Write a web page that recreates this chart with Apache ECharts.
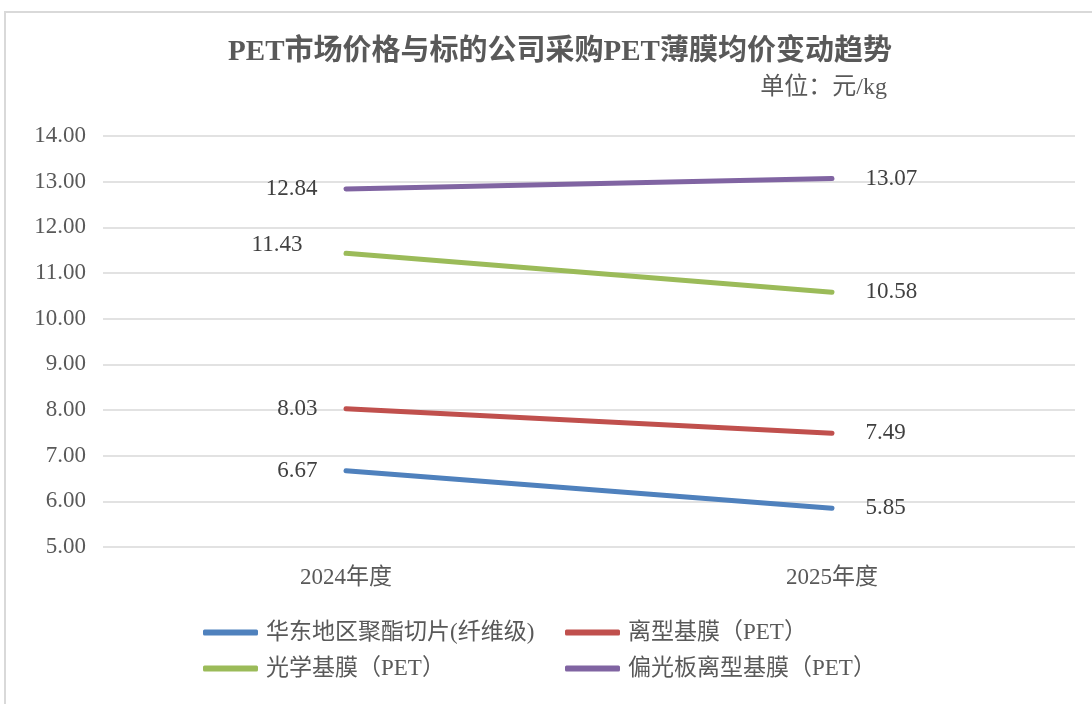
<!DOCTYPE html>
<html lang="zh">
<head>
    <meta charset="UTF-8" />
    <title>PET价格趋势</title>
    <style>
        html, body { margin: 0; padding: 0; background: #fff; }
        #chart { width: 1092px; height: 704px; }
    </style>
</head>
<body>
    <div id="chart"></div>
</body>
<script type="text/javascript" src="https://cdn.jsdelivr.net/npm/echarts@6/dist/echarts.min.js"></script>
<script type="text/javascript">
    // 数据
    var categories = ['2024年度', '2025年度'];
    var seriesNames = ['华东地区聚酯切片(纤维级)', '离型基膜（PET）', '光学基膜（PET）', '偏光板离型基膜（PET）'];
    var chipPrice = [6.67, 5.85];
    var releaseFilm = [8.03, 7.49];
    var opticalFilm = [11.43, 10.58];
    var polarizerFilm = [12.84, 13.07];
    var yTicks = [5, 14, 1]; // min, max, interval

    var colors = ['#4F81BD', '#C0504D', '#9BBB59', '#8064A2'];
    var font = "'Liberation Serif', 'Noto Sans CJK SC'";

    var myChart = echarts.init(document.getElementById('chart'));

    //数据标签：左点在左侧，右点在右侧
    function labelData(vals, leftOffset) {
        return vals.map(function (v, i) {
            var lab = i === 0
                ? { position: 'left', distance: 28, offset: leftOffset || [0, 0] }
                : { position: 'right', distance: 33 };
            return { value: v, label: lab };
        });
    }

    function makeSeries(name, vals, color, leftOffset) {
        return {
            name: name,
            type: 'line',
            data: labelData(vals, leftOffset),
            symbol: 'circle',
            symbolSize: 1,
            lineStyle: { color: color, width: 5, cap: 'round' },
            itemStyle: { color: color },
            label: {
                show: true,
                fontFamily: font,
                fontSize: 23,
                color: '#404040',
                formatter: function (p) { return p.value.toFixed(2); }
            }
        };
    }

    function legendAt(name, left, top) {
        return {
            data: [name],
            left: left,
            top: top,
            padding: 0,
            icon: 'roundRect',
            itemWidth: 55,
            itemHeight: 6,
            textStyle: { fontFamily: font, fontSize: 23, color: '#595959', padding: [0, 0, 0, 3] }
        };
    }

    var option = {
        backgroundColor: '#fff',
        animation: false,
        graphic: [{
            type: 'rect',
            shape: { x: 5, y: 12, width: 1300, height: 900 },
            style: { fill: 'none', stroke: '#d9d9d9', lineWidth: 2 },
            silent: true
        }],
        title: [{
            text: 'PET市场价格与标的公司采购PET薄膜均价变动趋势',
            left: 555,
            textAlign: 'center',
            top: 33,
            textStyle: { fontFamily: font, fontSize: 29, fontWeight: 'bold', color: '#595959' }
        }, {
            text: '单位：元/kg',
            right: 200,
            top: 71,
            textStyle: { fontFamily: font, fontSize: 24, fontWeight: 'normal', color: '#595959' }
        }],
        legend: [
            legendAt(seriesNames[0], 203, 621),
            legendAt(seriesNames[1], 565, 621),
            legendAt(seriesNames[2], 203, 657),
            legendAt(seriesNames[3], 565, 657)
        ],
        grid: { left: 103, right: 17, top: 136, bottom: 157 },
        xAxis: {
            type: 'category',
            data: categories,
            boundaryGap: true,
            axisLine: { show: false },
            axisTick: { show: false },
            axisLabel: { fontFamily: font, fontSize: 23, color: '#595959', margin: 19 }
        },
        yAxis: {
            type: 'value',
            min: yTicks[0],
            max: yTicks[1],
            interval: yTicks[2],
            axisLine: { show: false },
            axisTick: { show: false },
            axisLabel: {
                fontFamily: font, fontSize: 23, color: '#595959', margin: 17,
                formatter: function (v) { return v.toFixed(2); }
            },
            splitLine: { lineStyle: { color: '#d9d9d9', width: 1.5 } }
        },
        series: [
            makeSeries(seriesNames[0], chipPrice, colors[0]),
            makeSeries(seriesNames[1], releaseFilm, colors[1]),
            makeSeries(seriesNames[2], opticalFilm, colors[2], [-15, -8]),
            makeSeries(seriesNames[3], polarizerFilm, colors[3])
        ]
    };

    myChart.setOption(option);
    window.onresize = function () {
        myChart.resize();
    };
</script>
</html>
